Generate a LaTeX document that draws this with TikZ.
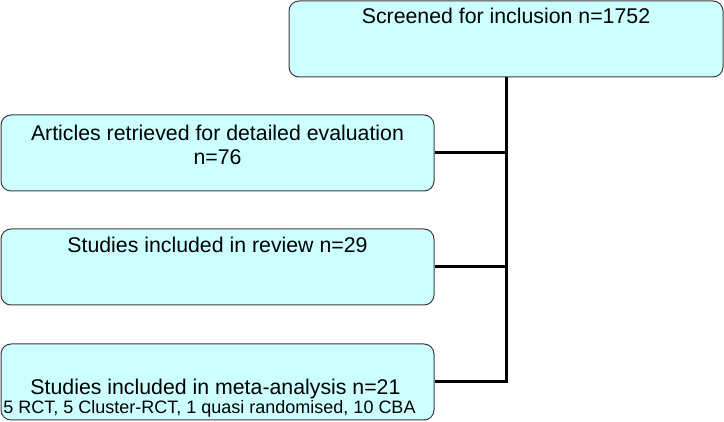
\documentclass[tikz,border=0pt]{standalone}
\usepackage{fontspec}
\setmainfont{Liberation Sans}
\usetikzlibrary{positioning}
\definecolor{flowfill}{RGB}{204,255,255}
\definecolor{flowedge}{RGB}{60,60,60}
\tikzset{
  fbox/.style={rectangle, rounded corners=10pt, draw=flowedge, fill=flowfill, line width=1pt,
               minimum width=433pt, minimum height=76pt, inner sep=0pt},
  ftxt/.style={inner sep=0pt, align=center, font=\fontsize{21.3}{24}\selectfont},
  fsub/.style={inner sep=0pt, align=center, font=\fontsize{18}{21}\selectfont},
  flink/.style={line width=3pt, black},
}
\begin{document}
\begin{tikzpicture}[x=1pt,y=-1pt]
        \useasboundingbox (0,0) rectangle (724,422);
        \node[fbox, minimum width=434pt](screen) at (506,39){};
        \node[fbox](articles) at (217.5,153){};
        \node[fbox](review) at (217.5,267){};
        \node[fbox](meta) at (217.5,382){};
        \node[ftxt, anchor=base](screentxt) at ([yshift=-23pt]screen.north){Screened for inclusion n=1752};
        \node[ftxt, anchor=north](articlestxt) at ([yshift=-10pt]articles.north){Articles retrieved for detailed evaluation\\n=76};
        \node[ftxt, anchor=base](reviewtxt) at ([yshift=-24pt]review.north){Studies included in review n=29};
        \node[ftxt, anchor=base](metatxt) at ([yshift=26pt,xshift=-2pt]meta.south){Studies included in meta-analysis n=21};
        \node[fsub, anchor=base](metasub) at ([yshift=7pt,xshift=-8pt]meta.south){5 RCT, 5 Cluster-RCT, 1 quasi randomised, 10 CBA};
        \draw[flink](screen.south) |- (meta.east);
        \draw[flink](articles.east) -- (articles.east -| screen.south);
        \draw[flink](review.east) -- (review.east -| screen.south);
    \end{tikzpicture}
\end{document}
